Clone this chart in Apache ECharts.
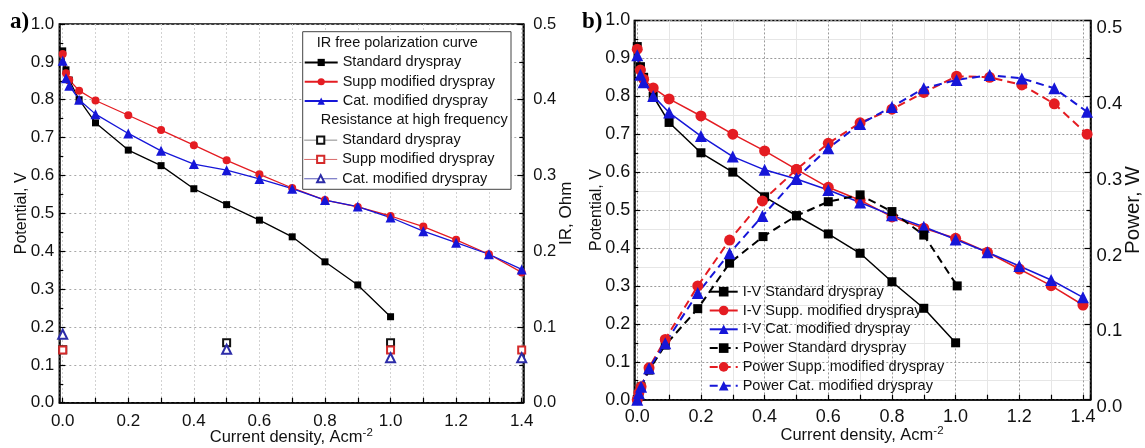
<!DOCTYPE html>
<html>
<head>
<meta charset="utf-8">
<title>Polarization curves</title>
<script src="https://cdn.jsdelivr.net/npm/echarts@6.0.0/dist/echarts.min.js"></script>
<style>
  html, body { margin: 0; padding: 0; background: #fff; }
  #chart { width: 1145px; height: 448px; }
</style>
</head>
<body>
<div id="chart"></div>
<script>
// ---- panel a: IR free polarization curves (V) ----
const aCurrentStd = [0, 0.01, 0.02, 0.05, 0.1, 0.2, 0.3, 0.4, 0.5, 0.6, 0.7, 0.8, 0.9, 1.0];
const aCurrentMod = [0, 0.01, 0.02, 0.05, 0.1, 0.2, 0.3, 0.4, 0.5, 0.6, 0.7, 0.8, 0.9, 1.0, 1.1, 1.2, 1.3, 1.4];
const aVoltStd  = [0.929, 0.879, 0.852, 0.800, 0.739, 0.667, 0.626, 0.565, 0.523, 0.482, 0.438, 0.372, 0.311, 0.227];
const aVoltSupp = [0.921, 0.870, 0.852, 0.824, 0.798, 0.759, 0.720, 0.680, 0.640, 0.603, 0.567, 0.535, 0.517, 0.493, 0.465, 0.430, 0.392, 0.344];
const aVoltCat  = [0.903, 0.857, 0.837, 0.800, 0.762, 0.711, 0.665, 0.630, 0.614, 0.591, 0.565, 0.535, 0.518, 0.489, 0.453, 0.4225, 0.392, 0.352];

// resistance at high frequency (Ohm)
const aHfrCurrentStd = [0, 0.5, 1.0];
const aHfrStd = [0.070, 0.079, 0.079];
const aHfrCurrentSupp = [0, 1.0, 1.4];
const aHfrSupp = [0.0696, 0.0696, 0.0696];
const aHfrCurrentCat = [0, 0.5, 1.0, 1.4];
const aHfrCat = [0.0903, 0.0705, 0.0594, 0.0594];

// ---- panel b: I-V (V) and power (W) ----
const bCurrentStd = [0, 0.01, 0.02, 0.05, 0.1, 0.2, 0.3, 0.4, 0.5, 0.6, 0.7, 0.8, 0.9, 1.0];
const bCurrentMod = [0, 0.01, 0.02, 0.05, 0.1, 0.2, 0.3, 0.4, 0.5, 0.6, 0.7, 0.8, 0.9, 1.0, 1.1, 1.2, 1.3, 1.4];
const bVoltStd  = [0.931, 0.878, 0.850, 0.800, 0.731, 0.651, 0.600, 0.535, 0.485, 0.437, 0.386, 0.311, 0.241, 0.150];
const bVoltSupp = [0.924, 0.869, 0.845, 0.822, 0.793, 0.748, 0.700, 0.656, 0.607, 0.560, 0.526, 0.482, 0.452, 0.4255, 0.3886, 0.3446, 0.3006, 0.2497];
const bVoltCat  = [0.908, 0.857, 0.837, 0.801, 0.757, 0.695, 0.641, 0.606, 0.582, 0.553, 0.520, 0.486, 0.456, 0.4225, 0.3886, 0.3525, 0.3156, 0.270];

const bPowerCurrentStd = [0, 0.005, 0.012, 0.037, 0.088, 0.19, 0.29, 0.395, 0.5, 0.6, 0.7, 0.8, 0.9, 1.005];
const bPowerCurrentMod = [0, 0.005, 0.012, 0.037, 0.088, 0.19, 0.29, 0.393, 0.5, 0.6, 0.7, 0.8, 0.9, 1.003, 1.107, 1.208, 1.31, 1.413];
const bPowerStd  = [0, 0.008, 0.017, 0.039, 0.072, 0.120, 0.180, 0.215, 0.2425, 0.261, 0.270, 0.248, 0.217, 0.150];
const bPowerSupp = [0, 0.009, 0.017, 0.042, 0.0795, 0.150, 0.2105, 0.262, 0.3035, 0.338, 0.365, 0.383, 0.405, 0.4265, 0.425, 0.415, 0.390, 0.350];
const bPowerCat  = [0, 0.0085, 0.017, 0.0415, 0.0745, 0.1405, 0.193, 0.242, 0.292, 0.3315, 0.3635, 0.386, 0.4105, 0.4215, 0.428, 0.4235, 0.4105, 0.3795];

const RED = '#e41c22';
const BLUE = '#1616d8';
const SANS = 'Liberation Sans';
const X_TITLE = '{m|Current density, Acm}{sup|-2}';

function pairs(xs, ys) {
    return xs.map((x, i) => [x, ys[i]]);
}

function oneDecimal(v) {
    return (Math.round(v * 100) / 100).toFixed(1);
}

// x title with a raised "-2"
const xTitleRich = {
    m: { fontFamily: SANS, fontSize: 16.5, lineHeight: 19, fill: '#111', verticalAlign: 'bottom' },
    sup: { fontFamily: SANS, fontSize: 11.5, lineHeight: 11.5, fill: '#111', verticalAlign: 'top', padding: [0, 0, 15, 0] }
};

// x axis of one panel, min/max a bit outside 0..1.4 like the original frame
function makeXAxis(gridIndex, min, max, fontSize, labelMargin, lines) {
    return {
        type: 'value',
        gridIndex: gridIndex,
        min: min,
        max: max,
        splitNumber: 7,
        axisLine: { show: true, onZero: false, lineStyle: { color: '#000', width: 1.5 } },
        axisTick: { inside: true, length: 5, lineStyle: { color: '#000', width: 1.2 } },
        minorTick: { show: true, splitNumber: 2, length: 5, lineStyle: { color: '#000', width: 1.2 } },
        axisLabel: {
            fontFamily: SANS, fontSize: fontSize, color: '#111', margin: labelMargin,
            showMinLabel: false, showMaxLabel: false,
            formatter: oneDecimal
        },
        splitLine: { show: true, lineStyle: lines.major },
        minorSplitLine: { show: true, lineStyle: lines.minor }
    };
}

function makeYAxis(gridIndex, position, max, label, nameGap, nameSize, labelFont, extra) {
    const axis = {
        type: 'value',
        gridIndex: gridIndex,
        position: position,
        min: 0,
        max: max,
        interval: 0.1,
        name: label,
        nameLocation: 'middle',
        nameGap: nameGap,
        nameMoveOverlap: false,
        nameTextStyle: { fontFamily: SANS, fontSize: nameSize, color: '#111' },
        axisLine: { show: true, onZero: false, lineStyle: { color: '#000', width: 1.5 } },
        axisTick: { inside: true, length: 6, lineStyle: { color: '#000', width: 1.2 } },
        minorTick: { show: true, splitNumber: 2, length: 4, lineStyle: { color: '#000', width: 1.2 } },
        axisLabel: Object.assign({ fontFamily: SANS, color: '#111', formatter: oneDecimal }, labelFont),
        splitLine: { show: false }
    };
    return Object.assign(axis, extra || {});
}

const gridStyleA = {
    major: { color: '#d2d2d2', type: [2, 2], width: 1 },
    minor: { color: '#d2d2d2', type: [2, 2], width: 1 }
};
const gridStyleB = {
    major: { color: '#9a9a9a', type: [2, 2], width: 1 },
    minor: { color: '#e6e6e6', type: 'solid', width: 1 }
};

function ivSeries(name, xi, yi, xs, ys, symbol, size, color, width, dashed) {
    return {
        name: name,
        type: 'line',
        xAxisIndex: xi,
        yAxisIndex: yi,
        data: pairs(xs, ys),
        symbol: symbol,
        symbolSize: size,
        showAllSymbol: true,
        color: color,
        itemStyle: { color: color },
        lineStyle: { color: color, width: width, type: dashed ? [8, 5] : 'solid' },
        z: 3
    };
}

function hfrSeries(name, xs, ys, symbol, color) {
    return {
        name: name,
        type: 'line',
        xAxisIndex: 0,
        yAxisIndex: 1,
        data: pairs(xs, ys),
        symbol: symbol,
        symbolSize: symbol === 'emptyTriangle' ? 9 : 7,
        showAllSymbol: true,
        color: color,
        itemStyle: { color: color, borderWidth: 1 },
        lineStyle: { opacity: 0 },
        z: 3
    };
}

const chart = echarts.init(document.getElementById('chart'));

const option = {
    animation: false,
    backgroundColor: '#fff',
    grid: [
        { left: 59.3, top: 24, width: 464, height: 378.7, show: true, borderColor: '#000', borderWidth: 1.5, containLabel: false },
        { left: 634.3, top: 20.4, width: 460, height: 379.3, show: true, borderColor: '#000', borderWidth: 1.5, containLabel: false }
    ],
    xAxis: [
        makeXAxis(0, -0.0104, 1.4049, 17, 10, gridStyleA),
        makeXAxis(1, -0.0093, 1.4237, 18, 8, gridStyleB)
    ],
    yAxis: [
        makeYAxis(0, 'left', 1.0, 'Potential, V', 29.5, 16, { fontSize: 17, margin: 5 },
            { splitLine: { show: true, lineStyle: { color: '#a8a8a8', type: [2, 3], width: 1 } } }),
        makeYAxis(0, 'right', 0.5, 'IR, Ohm', 35, 17, { fontSize: 16.5, margin: 10 }),
        makeYAxis(1, 'left', 1.0, 'Potential, V', 29.5, 16, { fontSize: 18, margin: 4 },
            {
                splitLine: { show: true, lineStyle: gridStyleB.major },
                minorSplitLine: { show: true, lineStyle: gridStyleB.minor }
            }),
        makeYAxis(1, 'right', 0.5, 'Power, W', 32.5, 20.5,
            { fontSize: 18.5, margin: 6, verticalAlign: 'top', lineHeight: 15 })
    ],
    legend: [
        {
            left: 303.7, top: 52.8, orient: 'vertical', padding: 0, itemGap: 0,
            itemWidth: 33, itemHeight: 9, selectedMode: false,
            textStyle: { fontFamily: SANS, fontSize: 14.5, color: '#111', lineHeight: 19.3 },
            formatter: name => name.split('|')[1],
            data: ['IR|Standard dryspray', 'IR|Supp modified dryspray', 'IR|Cat. modified dryspray']
        },
        {
            left: 303.7, top: 130.5, orient: 'vertical', padding: 0, itemGap: 0,
            itemWidth: 33, itemHeight: 9, selectedMode: false,
            textStyle: { fontFamily: SANS, fontSize: 14.5, color: '#111', lineHeight: 19.3 },
            formatter: name => name.split('|')[1],
            data: [
                { name: 'HF|Standard dryspray', lineStyle: { opacity: 1, width: 1, color: '#8a8a8a' } },
                { name: 'HF|Supp modified dryspray', lineStyle: { opacity: 1, width: 1, color: '#d86a6a' } },
                { name: 'HF|Cat. modified dryspray', lineStyle: { opacity: 1, width: 1, color: '#5a5ab8' } }
            ]
        },
        {
            left: 708.7, top: 282.3, orient: 'vertical', padding: 0, itemGap: 0,
            itemWidth: 28, itemHeight: 12, selectedMode: false,
            textStyle: { fontFamily: SANS, fontSize: 14.5, color: '#111', lineHeight: 18.8 },
            data: ['I-V Standard dryspray', 'I-V Supp. modified dryspray', 'I-V Cat. modified dryspray',
                   'Power Standard dryspray', 'Power Supp. modified dryspray', 'Power Cat. modified dryspray']
        }
    ],
    graphic: [
        { type: 'rect', z: 3, shape: { x: 302.7, y: 31.7, width: 208.3, height: 157.6 },
          style: { fill: '#fff', stroke: '#444', lineWidth: 1 } },
        { type: 'text', z: 5, left: 316.7, top: 35,
          style: { text: 'IR free polarization curve', fontFamily: SANS, fontSize: 14.5, fill: '#111' } },
        { type: 'text', z: 5, left: 320.7, top: 112.7,
          style: { text: 'Resistance at high frequency', fontFamily: SANS, fontSize: 14.5, fill: '#111' } },
        { type: 'text', z: 5, left: 10, top: 11,
          style: { text: 'a)', fontFamily: 'Liberation Serif', fontWeight: 'bold', fontSize: 23, fill: '#000' } },
        { type: 'text', z: 5, left: 582, top: 11,
          style: { text: 'b)', fontFamily: 'Liberation Serif', fontWeight: 'bold', fontSize: 23, fill: '#000' } },
        { type: 'text', z: 5, x: 291.3, y: 436,
          style: { text: X_TITLE, rich: xTitleRich, fontFamily: SANS, fontSize: 16.5, fill: '#111',
                   align: 'center', verticalAlign: 'middle' } },
        { type: 'text', z: 5, x: 862, y: 434,
          style: { text: X_TITLE, rich: xTitleRich, fontFamily: SANS, fontSize: 16.5, fill: '#111',
                   align: 'center', verticalAlign: 'middle' } }
    ],
    series: [
        ivSeries('IR|Standard dryspray', 0, 0, aCurrentStd, aVoltStd, 'rect', 7, '#000', 1.3, false),
        ivSeries('IR|Supp modified dryspray', 0, 0, aCurrentMod, aVoltSupp, 'circle', 8, RED, 1.3, false),
        ivSeries('IR|Cat. modified dryspray', 0, 0, aCurrentMod, aVoltCat, 'triangle', 10, BLUE, 1.3, false),
        hfrSeries('HF|Standard dryspray', aHfrCurrentStd, aHfrStd, 'emptyRect', '#111'),
        hfrSeries('HF|Supp modified dryspray', aHfrCurrentSupp, aHfrSupp, 'emptyRect', '#d42a2a'),
        hfrSeries('HF|Cat. modified dryspray', aHfrCurrentCat, aHfrCat, 'emptyTriangle', '#2c2ca8'),

        ivSeries('I-V Standard dryspray', 1, 2, bCurrentStd, bVoltStd, 'rect', 9, '#000', 1.5, false),
        ivSeries('I-V Supp. modified dryspray', 1, 2, bCurrentMod, bVoltSupp, 'circle', 11, RED, 1.5, false),
        ivSeries('I-V Cat. modified dryspray', 1, 2, bCurrentMod, bVoltCat, 'triangle', 12, BLUE, 1.5, false),
        ivSeries('Power Standard dryspray', 1, 3, bPowerCurrentStd, bPowerStd, 'rect', 9, '#000', 2, true),
        ivSeries('Power Supp. modified dryspray', 1, 3, bPowerCurrentMod, bPowerSupp, 'circle', 11, RED, 2, true),
        ivSeries('Power Cat. modified dryspray', 1, 3, bPowerCurrentMod, bPowerCat, 'triangle', 12, BLUE, 2, true)
    ]
};

chart.setOption(option);

window.addEventListener('resize', function () {
    chart.resize();
});
</script>
</body>
</html>
